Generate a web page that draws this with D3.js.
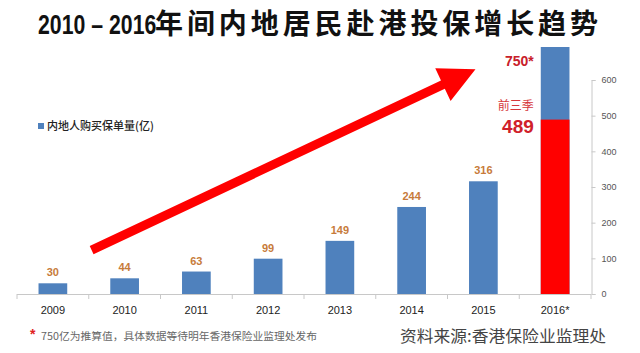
<!DOCTYPE html>
<html lang="zh">
<head>
<meta charset="UTF-8">
<title>2010 – 2016年间内地居民赴港投保增长趋势</title>
<script src="https://d3js.org/d3.v7.min.js"></script>
<style>
  body { margin: 0; background: #fff; }
  svg { display: block; }
  .cjk { font-family: "Noto Sans CJK SC", "Noto Sans", sans-serif; }
  .lat { font-family: "Liberation Sans", Arial, sans-serif; }
</style>
</head>
<body>
<div id="chart"></div>
<script>
// data
const years = ["2009", "2010", "2011", "2012", "2013", "2014", "2015", "2016*"];
const premiums = [30, 44, 63, 99, 149, 244, 316, 750];   // 亿
const firstThreeQuarters = 489;                          // 2016 前三季
const yTicks = [0, 100, 200, 300, 400, 500, 600];

const width = 640, height = 353;

const svg = d3.select("#chart").append("svg")
  .attr("width", width).attr("height", height);

svg.append("rect").attr("width", width).attr("height", height).attr("fill", "#fff");

const x = d3.scaleBand()
  .domain(years)
  .range([17, 591])
  .paddingInner(0.6)
  .paddingOuter(0.3);

const y = d3.scaleLinear()
  .domain([0, 600])
  .range([294, 80]);

const cx = d => x(d) + x.bandwidth() / 2;
const blue = "#4f81bd";

// bars
svg.append("g").selectAll("rect")
  .data(years.map((d, i) => ({ year: d, v: premiums[i] })))
  .join("rect")
    .attr("x", d => x(d.year))
    .attr("width", x.bandwidth())
    .attr("y", d => y(d.v))
    .attr("height", d => y(0) - y(d.v))
    .attr("fill", blue);

// 2016 first three quarters part
const last = years[years.length - 1];
svg.append("rect")
  .attr("x", x(last))
  .attr("width", x.bandwidth())
  .attr("y", y(firstThreeQuarters))
  .attr("height", y(0) - y(firstThreeQuarters))
  .attr("fill", "#ff0000");

// value labels (not for 2016)
svg.append("g").selectAll("text")
  .data(years.slice(0, -1).map((d, i) => ({ year: d, v: premiums[i] })))
  .join("text")
    .attr("class", "lat")
    .attr("x", d => cx(d.year))
    .attr("y", d => y(d.v) - 7)
    .attr("text-anchor", "middle")
    .attr("font-size", 11)
    .attr("font-weight", "bold")
    .attr("fill", "#c77b3a")
    .text(d => d.v);

// x axis
const xAxis = svg.append("g");
xAxis.append("line")
  .attr("x1", x.range()[0]).attr("x2", x.range()[1])
  .attr("y1", y(0) + 0.5).attr("y2", y(0) + 0.5)
  .attr("stroke", "#c8c8c8");
const gap = (x.step() - x.bandwidth()) / 2;
xAxis.selectAll("line.tick")
  .data(years.concat(["end"]))
  .join("line")
    .attr("class", "tick")
    .attr("x1", d => (d === "end" ? x(last) + x.bandwidth() + gap : x(d) - gap))
    .attr("x2", d => (d === "end" ? x(last) + x.bandwidth() + gap : x(d) - gap))
    .attr("y1", y(0)).attr("y2", y(0) + 5)
    .attr("stroke", "#c8c8c8");
xAxis.selectAll("text")
  .data(years)
  .join("text")
    .attr("class", "lat")
    .attr("x", cx)
    .attr("y", 314)
    .attr("text-anchor", "middle")
    .attr("font-size", 11)
    .attr("fill", "#222")
    .text(d => d);

// y axis on the right
const yAxis = svg.append("g")
  .attr("transform", `translate(${x.range()[1] + 0.5},0)`)
  .call(d3.axisRight(y).tickValues(yTicks).tickSize(4).tickPadding(6));
yAxis.select(".domain").attr("stroke", "#c8c8c8");
yAxis.selectAll(".tick line").attr("stroke", "#c8c8c8");
yAxis.selectAll(".tick text")
  .attr("class", "lat")
  .attr("font-size", 9)
  .attr("fill", "#555");

// white band behind title (covers top of 2016 bar)
svg.append("rect").attr("x", 0).attr("y", 0).attr("width", width).attr("height", 47).attr("fill", "#fff");

// title: latin part squeezed horizontally like the condensed original
svg.append("text")
  .attr("class", "lat")
  .attr("transform", "translate(38,34) scale(0.76,1)")
  .attr("font-size", 28)
  .attr("font-weight", "bold")
  .attr("fill", "#111")
  .text("2010 – 2016");
svg.append("text")
  .attr("class", "cjk")
  .attr("x", 155).attr("y", 34)
  .attr("font-size", 28)
  .attr("font-weight", "bold")
  .attr("fill", "#111")
  .attr("textLength", 443)
  .attr("lengthAdjust", "spacing")
  .text("年间内地居民赴港投保增长趋势");

// legend
svg.append("rect").attr("x", 38).attr("y", 123).attr("width", 6).attr("height", 6).attr("fill", blue);
svg.append("text")
  .attr("class", "cjk")
  .attr("x", 47).attr("y", 130)
  .attr("font-size", 11)
  .attr("font-weight", 500)
  .attr("fill", "#222")
  .text("内地人购买保单量(亿)");

// 2016 annotations
const annX = x(last) - 7;
svg.append("text")
  .attr("class", "lat")
  .attr("x", annX).attr("y", y(premiums[premiums.length - 1]) + 39)
  .attr("text-anchor", "end")
  .attr("font-size", 14).attr("font-weight", "bold")
  .attr("fill", "#c8202a")
  .text("750*");
svg.append("text")
  .attr("class", "cjk")
  .attr("x", annX).attr("y", y(firstThreeQuarters) - 10)
  .attr("text-anchor", "end")
  .attr("font-size", 12)
  .attr("fill", "#d6383c")
  .text("前三季");
svg.append("text")
  .attr("class", "lat")
  .attr("x", annX).attr("y", y(firstThreeQuarters) + 13)
  .attr("text-anchor", "end")
  .attr("font-size", 19).attr("font-weight", "bold")
  .attr("fill", "#d0202a")
  .text(firstThreeQuarters);

// trend arrow, anchored in data space
const p0 = [cx("2010") - 0.46 * x.step(), y(123)];
const p1 = [cx("2015") - 0.11 * x.step(), y(630)];
const dx = p1[0] - p0[0], dy = p1[1] - p0[1];
const len = Math.hypot(dx, dy);
const ux = dx / len, uy = dy / len, nx = -uy, ny = ux;
const headLen = 36, headW = 18, shaftW = 4.5;
const hb = [p1[0] - ux * headLen, p1[1] - uy * headLen];
const arrowPts = [
  [p0[0] + nx * shaftW, p0[1] + ny * shaftW],
  [hb[0] + nx * shaftW, hb[1] + ny * shaftW],
  [hb[0] + nx * headW, hb[1] + ny * headW],
  p1,
  [hb[0] - nx * headW, hb[1] - ny * headW],
  [hb[0] - nx * shaftW, hb[1] - ny * shaftW],
  [p0[0] - nx * shaftW, p0[1] - ny * shaftW]
];
svg.append("path")
  .attr("d", d3.line()(arrowPts) + "Z")
  .attr("fill", "#ff0000");

// footnote
svg.append("text")
  .attr("class", "lat")
  .attr("x", 30).attr("y", 339)
  .attr("font-size", 14).attr("font-weight", "bold")
  .attr("fill", "#e02020")
  .text("*");
svg.append("text")
  .attr("class", "cjk")
  .attr("x", 41).attr("y", 340)
  .attr("font-size", 10)
  .attr("fill", "#666")
  .attr("textLength", 276)
  .attr("lengthAdjust", "spacingAndGlyphs")
  .text("750亿为推算值，具体数据等待明年香港保险业监理处发布");

// source
svg.append("text")
  .attr("class", "cjk")
  .attr("x", 400).attr("y", 342)
  .attr("font-size", 16)
  .attr("fill", "#444")
  .attr("textLength", 206)
  .attr("lengthAdjust", "spacingAndGlyphs")
  .text("资料来源:香港保险业监理处");
</script>
</body>
</html>
